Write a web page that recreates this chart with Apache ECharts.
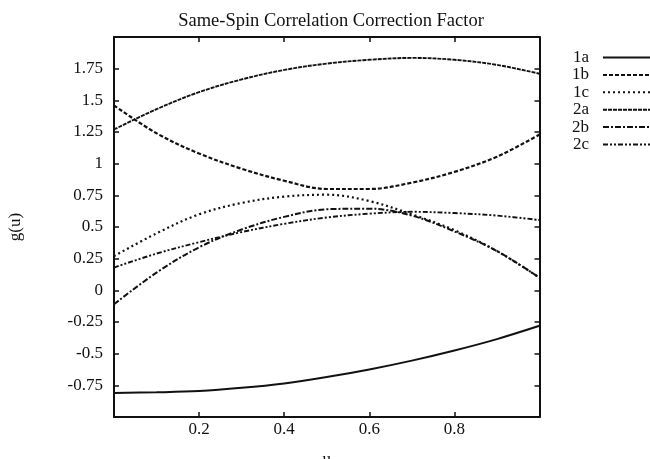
<!DOCTYPE html>
<html>
<head>
<meta charset="utf-8">
<script src="https://cdn.jsdelivr.net/npm/echarts@6/dist/echarts.min.js"></script>
<style>
html,body{margin:0;padding:0;background:#fff;}
#chart{width:650px;height:459px;}
</style>
</head>
<body>
<div id="chart"></div>
<script>
const titleText = 'Same-Spin Correlation Correction Factor';
const xName = 'u';
const yName = 'g(u)';
const seriesNames = ['1a', '1b', '1c', '2a', '2b', '2c'];
const uValues = [0, 0.1, 0.2, 0.3, 0.4, 0.5, 0.6, 0.7, 0.8, 0.9, 1.0];
const s1a = [-0.81, -0.805, -0.795, -0.77, -0.735, -0.685, -0.625, -0.555, -0.475, -0.385, -0.28];
const s1b = [1.46, 1.24, 1.08, 0.96, 0.865, 0.80, 0.80, 0.85, 0.935, 1.055, 1.23];
const s1c = [0.27, 0.45, 0.60, 0.69, 0.74, 0.755, 0.705, 0.60, 0.475, 0.31, 0.10];
const s2a = [1.27, 1.43, 1.565, 1.665, 1.74, 1.79, 1.82, 1.835, 1.82, 1.78, 1.71];
const s2b = [-0.11, 0.14, 0.34, 0.48, 0.58, 0.64, 0.645, 0.59, 0.465, 0.31, 0.10];
const s2c = [0.18, 0.29, 0.38, 0.46, 0.525, 0.575, 0.605, 0.62, 0.61, 0.59, 0.555];
const xTicks = [0.2, 0.4, 0.6, 0.8];
const yTicks = [-0.75, -0.5, -0.25, 0, 0.25, 0.5, 0.75, 1, 1.25, 1.5, 1.75];

const allSeries = [s1a, s1b, s1c, s2a, s2b, s2c];
const dashTypes = ['solid', [4, 2], [2, 3], [4, 1], [6, 2, 2, 2], [5, 2, 2, 2, 2, 2]];
const widths = [2, 2.2, 2.2, 1.9, 2, 1.9];
const serif = 'Liberation Serif, DejaVu Serif, serif';

const chart = echarts.init(document.getElementById('chart'));
const axisCommon = {
  type: 'value',
  axisLine: {show: true, onZero: false, lineStyle: {color: '#111', width: 2}},
  axisTick: {show: true, inside: true, length: 5, lineStyle: {color: '#111', width: 1.5}},
  splitLine: {show: false}
};
chart.setOption({
  animation: false,
  backgroundColor: '#fff',
  title: {
    text: titleText, left: 326, textAlign: 'center', top: 7,
    textStyle: {fontFamily: serif, fontWeight: 'normal', fontSize: 18.5, color: '#111'}
  },
  legend: {
    orient: 'vertical', left: 567, top: 44, align: 'right',
    itemWidth: 50, itemHeight: 14, itemGap: 0.4,
    itemStyle: {opacity: 0},
    textStyle: {fontFamily: serif, fontSize: 17, lineHeight: 16, color: '#111', padding: [0, 9, 0, 0]},
    data: seriesNames
  },
  grid: {left: 114, right: 110.5, top: 37, bottom: 42, containLabel: false, outerBoundsMode: 'none'},
  xAxis: [
    Object.assign({}, axisCommon, {
      min: 0, max: 1, interval: 0.2, position: 'bottom',
      name: xName, nameLocation: 'middle', nameGap: 34,
      nameTextStyle: {fontFamily: serif, fontSize: 17, color: '#111'},
      axisLabel: {fontFamily: serif, fontSize: 17, color: '#111', margin: 4,
        formatter: v => xTicks.some(t => Math.abs(t - v) < 1e-9) ? String(v) : ''}
    }),
    Object.assign({}, axisCommon, {
      min: 0, max: 1, interval: 0.2, position: 'top', axisLabel: {show: false}
    })
  ],
  yAxis: [
    Object.assign({}, axisCommon, {
      min: -1, max: 2, interval: 0.25, position: 'left',
      name: yName, nameLocation: 'middle', nameGap: 90, nameRotate: 90,
      nameTextStyle: {fontFamily: serif, fontSize: 17, color: '#111'},
      axisLabel: {fontFamily: serif, fontSize: 17, color: '#111', margin: 11,
        formatter: v => yTicks.some(t => Math.abs(t - v) < 1e-9) ? String(v) : ''}
    }),
    Object.assign({}, axisCommon, {
      min: -1, max: 2, interval: 0.25, position: 'right', axisLabel: {show: false}
    })
  ],
  series: allSeries.map((vals, i) => ({
    name: seriesNames[i],
    type: 'line',
    smooth: 0.35,
    symbol: 'none',
    showSymbol: false,
    color: '#111',
    lineStyle: {color: '#111', width: widths[i], type: dashTypes[i]},
    data: uValues.map((u, j) => [u, vals[j]])
  }))
});
</script>
</body>
</html>
